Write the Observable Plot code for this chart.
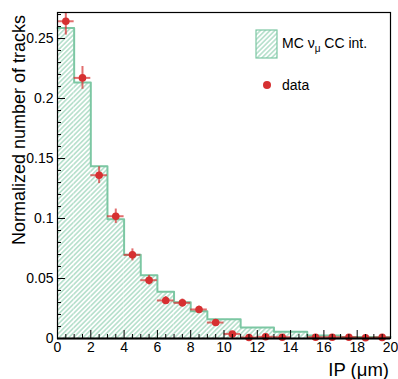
<!DOCTYPE html>
<html><head><meta charset="utf-8">
<script src="https://cdn.jsdelivr.net/npm/d3@7"></script>
<script src="https://cdn.jsdelivr.net/npm/@observablehq/plot@0.6"></script>
<style>body{margin:0;background:#fff} svg{display:block}</style>
</head><body><div id="chart"></div>
<script>
// MC histogram (variable bin widths)
const mcBinLow  = [0, 1, 2, 3, 4, 5, 6, 7, 8, 9, 11, 13, 15, 17];
const mcBinHigh = [1, 2, 3, 4, 5, 6, 7, 8, 9, 11, 13, 15, 17, 20];
const mcValues  = [0.2588, 0.2133, 0.1436, 0.0994, 0.0698, 0.0528, 0.0389, 0.0303, 0.0228, 0.0160, 0.0092, 0.0056, 0.0026, 0.0012];

// data points
const dataX   = [0.5, 1.5, 2.5, 3.5, 4.5, 5.5, 6.5, 7.5, 8.5, 9.5, 10.5, 11.5, 12.5, 13.5, 15.5, 16.5, 17.5, 18.5, 19.5];
const dataY   = [0.2644, 0.2172, 0.1361, 0.1019, 0.0697, 0.0486, 0.0317, 0.0297, 0.0242, 0.0133, 0.0038, 0.0008, 0.0014, 0.0011, 0.0011, 0.0011, 0.0011, 0.0006, 0.0009];
const dataErr = [0.0115, 0.0095, 0.0070, 0.0060, 0.0050, 0.0040, 0.0033, 0.0032, 0.0028, 0.0022, 0.0012, 0.0005, 0.0007, 0.0006, 0.0006, 0.0006, 0.0006, 0.0004, 0.0005];

const xTicks = [0, 2, 4, 6, 8, 10, 12, 14, 16, 18, 20];
const yTicks = [0, 0.05, 0.1, 0.15, 0.2, 0.25];
const xTitle = "IP (\u03bcm)";
const yTitle = "Normalized number of tracks";

const W = 398, H = 379, mL = 57, mR = 8, mT = 12, mB = 41;
const innerW = W - mL - mR, innerH = H - mT - mB;
const green = "#7cc7a3", red = "#d63031";

const mc = mcBinLow.map((lo, i) => ({lo, hi: mcBinHigh[i], v: mcValues[i]}));
const outline = mc.map(d => ({x: d.lo, y: d.v})).concat([{x: mcBinHigh[mcBinHigh.length - 1], y: mcValues[mcValues.length - 1]}]);
const data = dataX.map((x, i) => ({x, y: dataY[i], e: dataErr[i]}));
const xMinor = d3.range(0, 20.001, 0.5).filter(v => !xTicks.includes(v));
const yMinor = d3.range(0, 0.2701, 0.01).map(v => +v.toFixed(2)).filter(v => !yTicks.includes(v));

const svg = Plot.plot({
  width: W, height: H,
  marginLeft: mL, marginRight: mR, marginTop: mT, marginBottom: mB,
  style: {fontFamily: "'Liberation Sans', Arial, sans-serif", fontSize: "13px", color: "#000", background: "#fff"},
  x: {domain: [0, 20]},
  y: {domain: [0, 0.2717]},
  marks: [
    Plot.rectY(mc, {x1: "lo", x2: "hi", y: "v", fill: "url(#hatch)"}),
    Plot.line(outline, {x: "x", y: "y", curve: "step-after", stroke: green, strokeWidth: 2}),
    Plot.ruleY(data, {y: "y", x1: d => d.x - 0.5, x2: d => d.x + 0.5, stroke: red, strokeWidth: 2, strokeOpacity: 0.7}),
    Plot.ruleX(data, {x: "x", y1: d => d.y - d.e, y2: d => d.y + d.e, stroke: red, strokeWidth: 2, strokeOpacity: 0.7, clip: true}),
    Plot.dot(data, {x: "x", y: "y", r: 3.8, fill: red}),
    Plot.frame({stroke: "#000", strokeWidth: 1.2}),
    Plot.ruleY([0], {stroke: "#000", strokeWidth: 2}),
    Plot.tickY(yTicks, {y: d => d, stroke: "#000", insetRight: innerW - 8}),
    Plot.tickY(yMinor, {y: d => d, stroke: "#000", insetRight: innerW - 4}),
    Plot.tickX(xTicks, {x: d => d, stroke: "#000", insetTop: innerH - 8}),
    Plot.tickX(xMinor, {x: d => d, stroke: "#000", insetTop: innerH - 4}),
    Plot.axisY({ticks: yTicks, tickSize: 0, tickPadding: 4, tickFormat: d => String(d), label: null, fontSize: 14}),
    Plot.axisX({ticks: xTicks, tickSize: 0, tickPadding: 4, tickFormat: d => String(d), label: null, fontSize: 14})
  ]
});

const s = d3.select(svg);
const defs = s.insert("defs", ":first-child");
const pat = defs.append("pattern").attr("id", "hatch").attr("patternUnits", "userSpaceOnUse")
  .attr("width", 3.4).attr("height", 3.4).attr("patternTransform", "rotate(45)");
pat.append("rect").attr("width", 3.4).attr("height", 3.4).attr("fill", "#fff");
pat.append("line").attr("x1", 1.7).attr("y1", 0).attr("x2", 1.7).attr("y2", 3.4)
  .attr("stroke", green).attr("stroke-width", 0.9);

// axis titles
s.append("text").attr("transform", `translate(25,15) rotate(-90)`).attr("text-anchor", "end")
  .attr("font-size", 18).attr("fill", "#000").text(yTitle);
s.append("text").attr("x", 389).attr("y", 376).attr("text-anchor", "end")
  .attr("font-size", 18.5).attr("fill", "#000").text(xTitle);

// legend
const lg = s.append("g").attr("text-anchor", "start");
lg.append("rect").attr("x", 256).attr("y", 30).attr("width", 21).attr("height", 28)
  .attr("fill", "url(#hatch)").attr("stroke", green).attr("stroke-width", 1.2);
const t1 = lg.append("text").attr("x", 282).attr("y", 48).attr("font-size", 14).attr("fill", "#000").attr("text-anchor", "start");
t1.append("tspan").text("MC \u03bd");
t1.append("tspan").attr("font-size", 10).attr("dy", 4).text("\u03bc");
t1.append("tspan").attr("dy", -4).text(" CC int.");
lg.append("circle").attr("cx", 267).attr("cy", 85).attr("r", 4).attr("fill", red);
lg.append("text").attr("x", 282).attr("y", 90).attr("font-size", 14).attr("fill", "#000").attr("text-anchor", "start").text("data");

document.getElementById("chart").appendChild(svg);
</script>
</body></html>
